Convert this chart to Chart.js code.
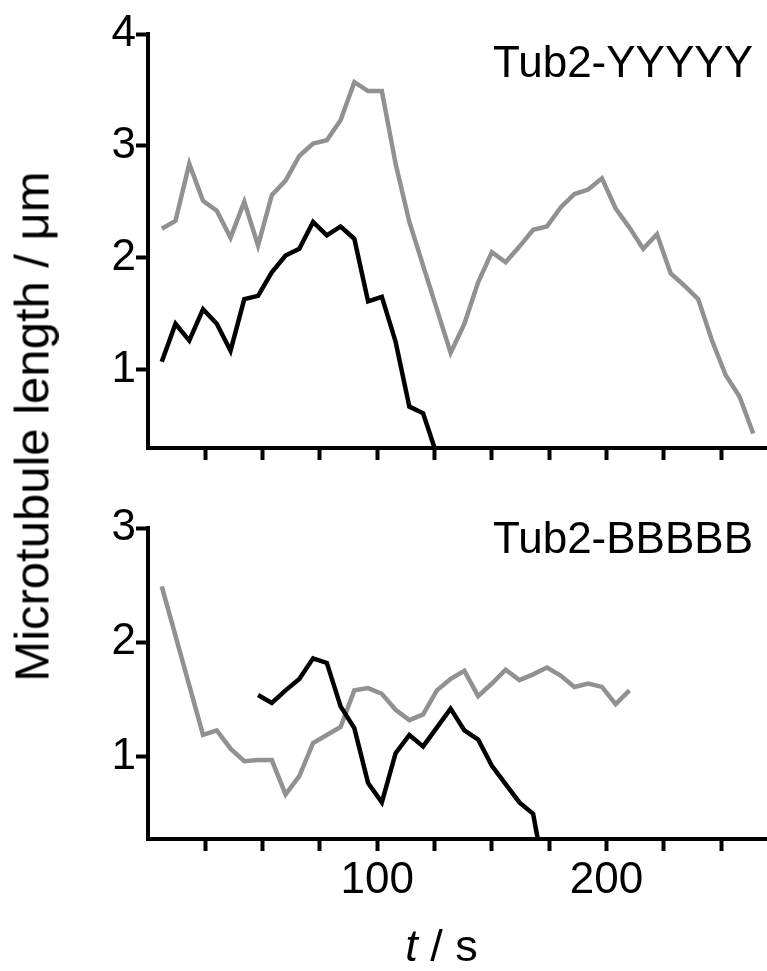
<!DOCTYPE html>
<html>
<head>
<meta charset="utf-8">
<script src="https://cdn.jsdelivr.net/npm/chart.js@4/dist/chart.umd.min.js"></script>
<style>
  html, body { margin: 0; padding: 0; background: #fff; }
  body { width: 767px; height: 971px; position: relative; overflow: hidden;
         font-family: "Liberation Sans", Arial, sans-serif; color: #000; }
  canvas { position: absolute; left: 0; }
  #topChart { top: 0; }
  #bottomChart { top: 490px; }
  .tag { position: absolute; font-size: 44px; line-height: 44px; white-space: nowrap; right: 14px; }
  #ytitle { position: absolute; width: 600px; height: 49px; left: -268.5px; top: 402px;
            font-size: 49px; line-height: 49px; text-align: center; white-space: nowrap;
            transform: rotate(-90deg); }
  #xtitle { position: absolute; width: 200px; left: 341.5px; top: 923px;
            font-size: 45px; line-height: 45px; text-align: center; white-space: nowrap; }
</style>
</head>
<body>
<canvas id="topChart" width="767" height="490"></canvas>
<canvas id="bottomChart" width="767" height="481"></canvas>
<div class="tag" style="top:40px">Tub2-YYYYY</div>
<div class="tag" style="top:516px">Tub2-BBBBB</div>
<div id="ytitle">Microtubule length / μm</div>
<div id="xtitle"><i>t</i> / s</div>
<script>
// time axis (s)
const xTicks = [25, 50, 75, 100, 125, 150, 175, 200, 225, 250];
const xLabelled = [100, 200];
const yTicksTop = [1, 2, 3, 4];
const yTicksBottom = [1, 2, 3];

// Tub2-YYYYY panel
const topBlackT = [6, 12, 18, 24, 30, 36, 42, 48, 54, 60, 66, 72, 78, 84, 90, 96, 102, 108, 114, 120, 125];
const topBlackV = [1.07, 1.41, 1.26, 1.54, 1.41, 1.17, 1.63, 1.66, 1.87, 2.02, 2.08, 2.32, 2.20, 2.28, 2.17, 1.61, 1.65, 1.25, 0.67, 0.61, 0.30];
const topGrayT = [6, 12, 18, 24, 30, 36, 42, 48, 54, 60, 66, 72, 78, 84, 90, 96, 102, 108, 114, 132, 138, 144, 150, 156, 162, 168, 174, 180, 186, 192, 198, 204, 210, 216, 222, 228, 234, 240, 246, 252, 258, 264];
const topGrayV = [2.26, 2.33, 2.84, 2.51, 2.42, 2.18, 2.50, 2.11, 2.56, 2.69, 2.91, 3.02, 3.05, 3.23, 3.57, 3.49, 3.49, 2.84, 2.32, 1.15, 1.41, 1.78, 2.05, 1.96, 2.10, 2.25, 2.28, 2.45, 2.57, 2.61, 2.71, 2.44, 2.27, 2.08, 2.21, 1.86, 1.75, 1.63, 1.26, 0.95, 0.76, 0.43];

// Tub2-BBBBB panel
const botBlackT = [48, 54, 60, 66, 72, 78, 84, 90, 96, 102, 108, 114, 120, 132, 138, 144, 150, 156, 162, 168, 170];
const botBlackV = [1.54, 1.47, 1.58, 1.68, 1.86, 1.82, 1.44, 1.25, 0.77, 0.60, 1.03, 1.19, 1.09, 1.42, 1.23, 1.15, 0.92, 0.76, 0.60, 0.50, 0.28];
const botGrayT = [6, 24, 30, 36, 42, 48, 54, 60, 66, 72, 78, 84, 90, 96, 102, 108, 114, 120, 126, 132, 138, 144, 150, 156, 162, 168, 174, 180, 186, 192, 198, 204, 210];
const botGrayV = [2.49, 1.19, 1.23, 1.07, 0.96, 0.97, 0.97, 0.67, 0.83, 1.12, 1.19, 1.26, 1.58, 1.60, 1.55, 1.41, 1.32, 1.37, 1.58, 1.68, 1.75, 1.53, 1.64, 1.76, 1.67, 1.72, 1.78, 1.71, 1.61, 1.64, 1.61, 1.46, 1.58];

Chart.defaults.font.family = '"Liberation Sans", Arial, sans-serif';
Chart.defaults.color = '#000';

const pts = (t, v) => t.map((x, i) => ({ x, y: v[i] }));
const line = (data, color) => ({ data, borderColor: color, borderWidth: 4.5, pointRadius: 0, tension: 0, fill: false });

function panel(id, opts) {
  const { black, gray, yMin, yMax, yTicks, padTop, xHeight, showX } = opts;
  return new Chart(document.getElementById(id), {
    type: 'line',
    data: { datasets: [line(black, '#000'), line(gray, '#919191')] },
    options: {
      responsive: false,
      animation: false,
      layout: { padding: { top: padTop, left: 0, right: 0, bottom: 0 } },
      plugins: { legend: { display: false }, tooltip: { enabled: false } },
      scales: {
        x: {
          type: 'linear', min: 0, max: 270,
          afterBuildTicks: (s) => { s.ticks = xTicks.map(v => ({ value: v })); },
          afterFit: (s) => { s.height = xHeight; },
          ticks: { autoSkip: false, maxRotation: 0, padding: 3, font: { size: 44 },
                   callback: (v) => (showX && xLabelled.includes(v)) ? String(v) : '' },
          grid: { drawOnChartArea: false, tickLength: 12, tickWidth: 4, tickColor: '#000' },
          border: { color: '#000', width: 4 }
        },
        y: {
          min: yMin, max: yMax,
          afterBuildTicks: (s) => { s.ticks = yTicks.map(v => ({ value: v })); },
          afterFit: (s) => { s.width = 148; },
          ticks: { padding: 0, font: { size: 44 }, callback: (v) => String(v) },
          grid: { drawOnChartArea: false, tickLength: 12, tickWidth: 4, tickColor: '#000' },
          border: { color: '#000', width: 4 }
        }
      }
    }
  });
}

panel('topChart', {
  black: pts(topBlackT, topBlackV), gray: pts(topGrayT, topGrayV),
  yMin: 0.3, yMax: 4, yTicks: yTicksTop, padTop: 34, xHeight: 42, showX: false
});
panel('bottomChart', {
  black: pts(botBlackT, botBlackV), gray: pts(botGrayT, botGrayV),
  yMin: 0.28, yMax: 3, yTicks: yTicksBottom, padTop: 38, xHeight: 132, showX: true
});
</script>
</body>
</html>
